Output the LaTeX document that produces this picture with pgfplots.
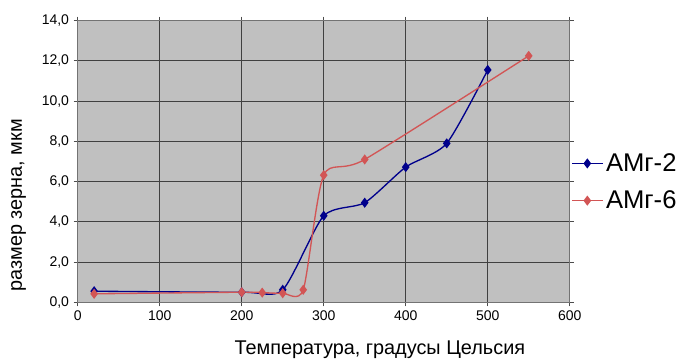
\documentclass[border=0pt]{standalone}
\usepackage{pgfplots}
\pgfplotsset{compat=1.18}
\usepackage{fontspec}
\setmainfont{Liberation Sans}
\definecolor{bg}{RGB}{192,192,192}
\definecolor{navy2}{RGB}{0,0,140}
\definecolor{red2}{RGB}{210,85,85}
\begin{document}
\begin{tikzpicture}
\begin{axis}[
  scale only axis, width=369pt, height=211.2pt,
  xmin=0, xmax=600, ymin=0, ymax=14,
  xtick={0,100,...,600}, ytick={0,2,...,14},
  grid=major, grid style={black!75, line width=0.6pt},
  axis background/.style={fill=bg},
  axis line style={black!55, line width=0.6pt},
  tick align=outside, tick style={black!70, line width=0.6pt}, major tick length=3pt,
  /pgf/number format/assume math mode=true,
  yticklabel style={/pgf/number format/.cd, fixed, fixed zerofill, precision=1, use comma},
  xticklabel style={/pgf/number format/.cd, fixed, precision=0},
  ticklabel style={font=\fontsize{10.5}{12}\selectfont},
  xlabel={Температура, градусы Цельсия},
  ylabel={размер зерна, мкм},
  xlabel style={font=\fontsize{14.9}{17}\selectfont, at={(axis description cs:0.614,-0.17)}, anchor=center},
  ylabel style={font=\fontsize{14.9}{17}\selectfont, at={(axis description cs:-0.12,0.345)}, anchor=center},
  legend style={at={(1.0,0.427)}, anchor=west, draw=none, fill=none, inner sep=1pt,
    font=\fontsize{19.2}{22}\selectfont, row sep=9pt,
    nodes={inner sep=2pt}},
  legend cell align=left,
  legend image code/.code={\draw[mark repeat=2,mark phase=2] plot coordinates {(0pt,0pt) (11.5pt,0pt) (23pt,0pt)};},
]
\addplot[navy2, line width=1pt, smooth, tension=0.4, mark=diamond*, mark size=3pt, mark options={solid}] coordinates {
  (20,0.55) (200,0.5) (250,0.62) (300,4.3) (350,4.95) (400,6.72) (450,7.9) (500,11.55)
};
\addlegendentry{АМг-2}
\addplot[red2, line width=1pt, smooth, tension=0.4, mark=diamond*, mark size=3pt, mark options={solid}] coordinates {
  (20,0.42) (200,0.5) (225,0.48) (250,0.45) (275,0.62) (300,6.32) (350,7.1) (550,12.25)
};
\addlegendentry{АМг-6}
\coordinate (sw) at (rel axis cs:0,0);
\end{axis}
\pgfresetboundingbox
\useasboundingbox (sw) ++(-58.3pt,-43.3pt) rectangle ++(510.75pt,270pt);
\end{tikzpicture}
\end{document}
